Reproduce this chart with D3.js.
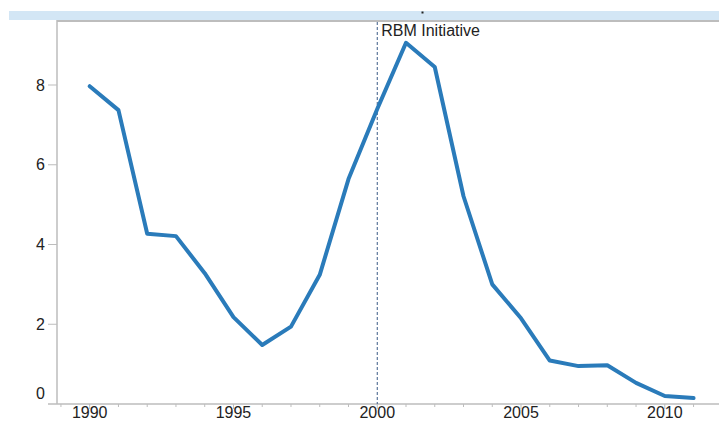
<!DOCTYPE html>
<html><head><meta charset="utf-8">
<script src="https://cdn.jsdelivr.net/npm/d3@7"></script>
<style>body{margin:0;background:#fff}svg{display:block}text{font-family:"Liberation Sans",Arial,sans-serif}</style>
</head><body><svg id="c" width="719" height="430"></svg>
<script>
const years = [1990,1991,1992,1993,1994,1995,1996,1997,1998,1999,2000,2001,2002,2003,2004,2005,2006,2007,2008,2009,2010,2011];
const values = [7.97,7.37,4.27,4.21,3.28,2.18,1.48,1.94,3.24,5.64,7.4,9.06,8.45,5.21,3.0,2.15,1.09,0.95,0.97,0.53,0.2,0.15];
const xTicks = [1990,1995,2000,2005,2010];
const yTicks = [0,2,4,6,8];
const markerYear = 2000;
const markerLabel = "RBM Initiative";

const svg = d3.select("#c");
const x = d3.scaleLinear().domain([1990,2010]).range([89.7,664.8]);
const y = d3.scaleLinear().domain([0,8]).range([404,85]);

// top band
svg.append("rect").attr("x",9).attr("y",11).attr("width",710).attr("height",9).attr("fill","#d3e6f5");
svg.append("rect").attr("x",421.5).attr("y",11.5).attr("width",2).attr("height",2).attr("fill","#222");
// frame top + left
svg.append("line").attr("x1",57).attr("x2",719).attr("y1",21).attr("y2",21).attr("stroke","#bdbdbd").attr("stroke-width",2);
svg.append("line").attr("x1",57).attr("x2",57).attr("y1",20).attr("y2",404).attr("stroke","#bdbdbd").attr("stroke-width",1.5);
// bottom axis
svg.append("line").attr("x1",48).attr("x2",719).attr("y1",404).attr("y2",404).attr("stroke","#bdbdbd").attr("stroke-width",1.5);
const minor = d3.range(1989,2013);
svg.selectAll(".mt").data(minor).enter().append("line")
  .attr("x1",d=>x(d)).attr("x2",d=>x(d)).attr("y1",404).attr("y2",d=>d%5===0?409:407)
  .attr("stroke","#bdbdbd").attr("stroke-width",1);
svg.selectAll(".xl").data(xTicks).enter().append("text")
  .attr("x",d=>x(d)).attr("y",417.5).attr("text-anchor","middle").attr("font-size",16).attr("fill","#222").text(d=>d);
// y axis ticks
svg.selectAll(".yt").data(yTicks.filter(d=>d>0)).enter().append("line")
  .attr("x1",48).attr("x2",57).attr("y1",d=>y(d)).attr("y2",d=>y(d)).attr("stroke","#bdbdbd").attr("stroke-width",1);
svg.selectAll(".yl").data(yTicks).enter().append("text")
  .attr("x",45).attr("y",d=>d===0?y(d)-11:y(d)).attr("dy","0.35em").attr("text-anchor","end").attr("font-size",16).attr("fill","#222").text(d=>d);
// marker
svg.append("line").attr("x1",x(markerYear)).attr("x2",x(markerYear)).attr("y1",22).attr("y2",404)
  .attr("stroke","#3b5b86").attr("stroke-width",1).attr("stroke-dasharray","3,2");
svg.append("text").attr("x",x(markerYear)+4).attr("y",35.5).attr("font-size",16).attr("fill","#222").text(markerLabel);
// line
const line = d3.line().x((d,i)=>x(years[i])).y(d=>y(d));
svg.append("path").datum(values).attr("d",line).attr("fill","none").attr("stroke","#2a7bba")
  .attr("stroke-width",4).attr("stroke-linejoin","round").attr("stroke-linecap","round");
</script></body></html>
